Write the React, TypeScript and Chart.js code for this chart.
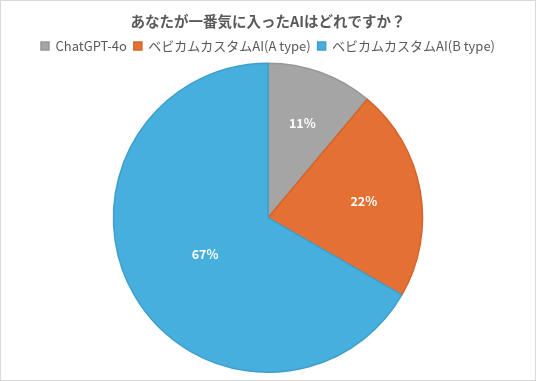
import React, { useEffect, useRef } from "react";
import { Chart, registerables } from "chart.js";

Chart.register(...registerables);

const TITLE = "あなたが一番気に入ったAIはどれですか？";
const categories = ["ChatGPT-4o", "ベビカムカスタムAI(A type)", "ベビカムカスタムAI(B type)"];
const values = [1, 2, 6];
const colors = ["#A5A5A5", "#E57033", "#46AFDE"];
const borders = ["#979797", "#D2652C", "#3E9FCD"];

const FONT = '"Noto Sans CJK JP", "Noto Sans", sans-serif';

const labelPlugin = {
  id: "pctLabels",
  afterDatasetsDraw(chart: any) {
    const ctx = chart.ctx;
    const meta = chart.getDatasetMeta(0);
    const data = chart.data.datasets[0].data as number[];
    const total = data.reduce((a, b) => a + b, 0);
    const factors = [0.65, 0.63, 0.47];
    ctx.save();
    ctx.fillStyle = "#FFFFFF";
    ctx.font = "bold 12.5px " + FONT;
    ctx.textAlign = "center";
    ctx.textBaseline = "middle";
    meta.data.forEach((arc: any, i: number) => {
      const { x, y, startAngle, endAngle, outerRadius } = arc.getProps(
        ["x", "y", "startAngle", "endAngle", "outerRadius"],
        true
      );
      const mid = (startAngle + endAngle) / 2;
      const r = outerRadius * factors[i];
      const pct = Math.round((data[i] / total) * 100) + "%";
      ctx.fillText(pct, x + Math.cos(mid) * r, y + Math.sin(mid) * r);
    });
    ctx.restore();
  },
};

export default function App() {
  const ref = useRef<HTMLCanvasElement>(null);
  useEffect(() => {
    if (!ref.current) return;
    const chart = new Chart(ref.current, {
      type: "pie",
      data: {
        labels: categories,
        datasets: [
          {
            data: values,
            backgroundColor: colors,
            borderColor: borders,
            borderWidth: 1.5,
          },
        ],
      },
      options: {
        responsive: false,
        animation: false,
        layout: { padding: { top: 0, bottom: 8, left: 0, right: 0 } },
        plugins: {
          title: {
            display: true,
            text: TITLE,
            color: "#595959",
            font: { family: FONT, size: 14.5, weight: "bold" },
            padding: { top: 13, bottom: 2 },
          },
          legend: {
            position: "top",
            labels: {
              color: "#595959",
              font: { family: FONT, size: 13 },
              boxWidth: 8,
              boxHeight: 8,
              padding: 7,
            },
          },
          tooltip: { enabled: false },
        },
      },
      plugins: [labelPlugin],
    });
    return () => chart.destroy();
  }, []);
  return (
    <div
      style={{
        position: "absolute",
        left: 0,
        top: 0,
        width: 536,
        height: 381,
        background: "#FFFFFF",
      }}
    >
      <canvas ref={ref} width={536} height={381} style={{ display: "block" }} />
      <div
        style={{
          position: "absolute",
          left: 0,
          top: 0,
          width: 536,
          height: 381,
          boxSizing: "border-box",
          border: "1px solid #D9D9D9",
          pointerEvents: "none",
        }}
      />
    </div>
  );
}
